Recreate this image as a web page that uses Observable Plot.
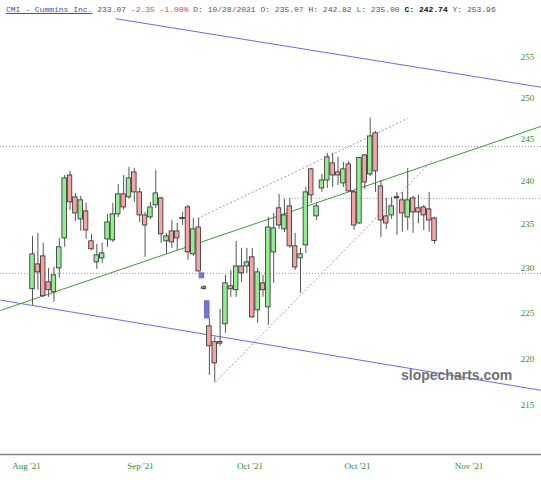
<!DOCTYPE html>
<html><head><meta charset="utf-8">
<script src="https://cdn.jsdelivr.net/npm/d3@7"></script>
<script src="https://cdn.jsdelivr.net/npm/@observablehq/plot@0.6"></script>
<style>
body{margin:0;background:#fff;}
#wrap{position:relative;width:541px;height:480px;overflow:hidden;background:#fff;}
#chart{position:absolute;left:0;top:0;}
#hdr{position:absolute;left:6px;top:5px;font:8px "Liberation Mono",monospace;line-height:10px;color:#555;white-space:pre;}
#hdr .t{color:#4a4ac0;text-decoration:underline;}
#hdr .r{color:#e04848;}
#hdr b{color:#111;}
#wm{position:absolute;left:401px;top:367px;font:bold 14px "Liberation Sans",Arial,sans-serif;color:#707070;}
</style></head>
<body><div id="wrap"><div id="chart"></div>
<div id="hdr"><span class="t">CMI - Cummins Inc.</span> 233.07 <span class="r">-2.35 -1.00%</span> D: 10/28/2021 O: 235.07 H: 242.82 L: 235.00 <b>C: 242.74</b> Y: 253.96</div>
<div id="wm">slopecharts.com</div></div>
<script>
const opens  = [227.61,230.40,231.31,228.39,227.27,229.95,233.36,240.67,238.10,235.54,236.47,233.02,230.63,231.08,233.24,233.13,236.12,238.45,238.10,241.03,238.68,236.00,235.77,237.17,237.98,233.02,234.16,234.16,235.71,236.93,231.54,234.61,227.83,223.51,221.77,221.80,223.73,227.94,227.50,230.17,230.17,231.20,225.27,228.27,225.60,231.76,236.82,234.39,237.05,232.45,231.08,232.56,241.39,235.89,239.14,240.08,242.10,241.03,239.73,241.98,238.68,235.07,243.05,240.79,245.69,239.38,235.89,236.00,238.12,237.75,235.77,237.98,236.82,236.93,236.70,235.65];
const highs  = [233.59,233.93,232.79,229.95,230.06,233.36,240.67,241.15,238.56,238.21,237.40,233.82,232.68,232.79,236.12,237.40,239.61,240.67,241.62,241.51,239.14,236.35,237.52,241.27,238.10,233.93,235.42,235.07,236.35,237.17,235.65,235.65,228.05,224.38,222.31,225.38,229.17,229.73,233.02,232.22,232.22,232.22,229.95,229.17,235.77,236.23,238.45,237.87,237.98,233.93,232.22,239.26,241.51,237.40,240.79,243.29,243.29,242.81,242.22,242.34,238.91,242.82,243.17,247.54,245.94,240.08,237.98,238.10,238.68,238.68,241.51,238.21,238.33,237.17,238.68,235.77];
const lows   = [225.82,227.50,226.71,226.71,226.16,228.83,232.34,236.58,235.30,234.16,233.24,231.99,229.84,230.51,232.34,232.90,235.77,236.58,237.87,237.52,235.19,231.20,235.54,236.82,232.79,231.54,232.22,231.99,234.84,230.86,231.31,229.50,227.50,218.20,217.46,221.33,222.75,226.71,226.71,228.39,229.39,224.38,223.84,226.71,223.62,228.27,234.39,234.05,232.22,229.73,227.16,231.65,237.40,235.42,238.68,239.14,239.26,239.49,239.26,238.68,234.27,235.00,239.03,240.55,238.68,233.47,234.39,235.54,233.70,234.05,234.27,233.93,235.07,234.27,234.05,232.68];
const closes = [231.54,229.50,226.83,227.50,229.17,232.34,240.32,237.52,236.23,237.75,234.27,232.11,231.43,231.65,235.19,236.12,238.45,236.93,240.32,238.68,236.00,234.84,236.93,238.56,233.82,233.59,232.90,233.36,235.59,231.76,234.39,229.61,227.66,221.33,219.49,221.62,228.27,227.61,230.17,229.39,230.63,224.49,229.50,227.50,234.61,234.50,234.84,236.00,232.45,230.06,231.54,238.68,238.33,237.05,240.08,242.81,240.67,240.67,241.39,238.80,234.84,242.74,239.84,245.32,241.15,235.42,235.07,237.05,238.00,236.23,237.75,236.35,236.35,236.00,235.42,233.07];

// gap boxes (bar position, low, high)
const gapPos  = [32.6, 33.6, 60.5];
const gapLow  = [228.83, 224.38, 238.72];
const gapHigh = [229.39, 226.27, 238.85];

// trend lines (bar position / price endpoints)
const blueX1 = [16.5, -4.97], blueY1 = [259.9, 226.4], blueX2 = [95.96, 95.96], blueY2 = [251.3, 216.6];
const greenX1 = [-4.97], greenY1 = [225.26], greenX2 = [95.96], greenY2 = [246.55];
const purpleX1 = [31.8, 35.1], purpleY1 = [235.65, 217.46], purpleX2 = [71.0, 75.6], purpleY2 = [247.5, 242.45];

// horizontal levels
const levelPrice = [244.12, 237.98, 229.39];
const levelStart = [-4.97, 47.8, -4.97];

// axes
const yTicks = [215, 220, 225, 230, 235, 240, 245, 250, 255];
const xTickPos = [-0.12, 21.15, 41.58, 61.63, 82.44];
const xTickLabels = ["Aug '21", "Sep '21", "Oct '21", "Oct '21", "Nov '21"];

const xDomain = [-4.97, 95.96];

const candles = opens.map((o, i) => ({n: i + 1, o, h: highs[i], l: lows[i], c: closes[i]}));
const up = candles.filter(d => d.c > d.o);
const down = candles.filter(d => d.c <= d.o);
const gaps = gapPos.map((p, i) => ({p, lo: gapLow[i], hi: gapHigh[i]}));
const mk = (x1, y1, x2, y2) => x1.map((v, i) => ({x1: v, y1: y1[i], x2: x2[i], y2: y2[i]}));
const blue = mk(blueX1, blueY1, blueX2, blueY2);
const green = mk(greenX1, greenY1, greenX2, greenY2);
const purple = mk(purpleX1, purpleY1, purpleX2, purpleY2);
const levels = levelPrice.map((p, i) => ({p, s: levelStart[i]}));
const xLab = new Map(xTickPos.map((p, i) => [p, xTickLabels[i]]));

const hw = 0.42;
const chart = Plot.plot({
  width: 541, height: 480,
  marginTop: 0, marginRight: 0, marginBottom: 26, marginLeft: 0,
  style: {fontFamily: "'Liberation Serif', serif", fontSize: "9px", background: "transparent"},
  x: {type: "linear", domain: xDomain, range: [0, 541]},
  y: {type: "log", domain: [215, 255], range: [405, 57]},
  marks: [
    Plot.ruleY(levels, {y: "p", x1: "s", x2: xDomain[1], stroke: "#999", strokeDasharray: "1,2", strokeWidth: 1}),
    Plot.link(blue, {x1: "x1", y1: "y1", x2: "x2", y2: "y2", stroke: "#6b6be0", strokeWidth: 1}),
    Plot.link(green, {x1: "x1", y1: "y1", x2: "x2", y2: "y2", stroke: "#3f9a3f", strokeWidth: 1}),
    Plot.link(purple, {x1: "x1", y1: "y1", x2: "x2", y2: "y2", stroke: "#c27ee6", strokeWidth: 1, strokeDasharray: "2,2"}),
    Plot.ruleX(candles, {x: "n", y1: "l", y2: "h", stroke: "#555", strokeWidth: 1}),
    Plot.rect(gaps, {x1: d => d.p - hw, x2: d => d.p + hw, y1: "lo", y2: "hi", fill: "#7676d8", stroke: "#6a6acc", strokeWidth: 1}),
    Plot.rect(up, {x1: d => d.n - hw, x2: d => d.n + hw, y1: "o", y2: "c", fill: "#92ec92", stroke: "#2b2b2b", strokeWidth: 0.8}),
    Plot.rect(down, {x1: d => d.n - hw, x2: d => d.n + hw, y1: "o", y2: "c", fill: "#f3a4a4", stroke: "#2b2b2b", strokeWidth: 0.8}),
    Plot.frame({anchor: "bottom", stroke: "#888", strokeWidth: 1.5}),
    Plot.axisY({anchor: "right", ticks: yTicks, tickSize: 0, tickPadding: 0, dx: -14, textAnchor: "middle", color: "#2f8a2f", fontSize: 9, label: null}),
    Plot.axisX({anchor: "bottom", ticks: xTickPos, tickFormat: d => xLab.get(d), tickSize: 0, tickPadding: 8, color: "#2f8a2f", fontSize: 9, label: null})
  ]
});
document.getElementById("chart").appendChild(chart);
</script>
</body></html>
